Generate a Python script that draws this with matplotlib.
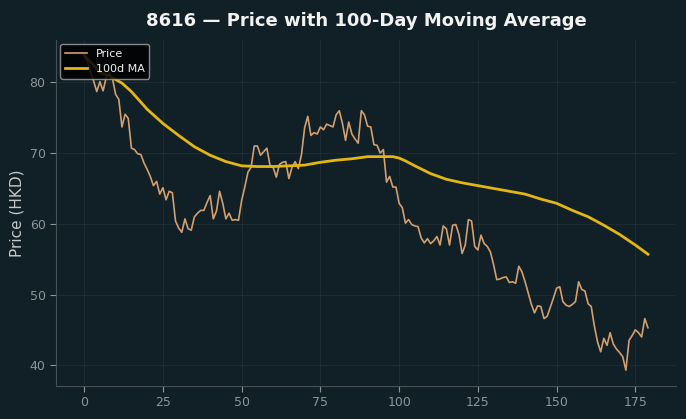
import matplotlib
matplotlib.use("Agg")
import matplotlib.pyplot as plt

# ── data ─────────────────────────────────────────────────────────────────────
price = [
    83.8, 83.0, 81.5, 80.2, 78.7, 80.1, 78.8, 80.7, 81.3, 80.5,   # 0-9
    78.3, 77.6, 73.7, 75.5, 74.9, 70.7, 70.5, 69.9, 69.8, 68.6,   # 10-19
    67.7, 66.7, 65.4, 66.0, 64.2, 65.1, 63.4, 64.6, 64.4, 60.4,   # 20-29
    59.4, 58.8, 60.7, 59.3, 59.1, 61.0, 61.5, 61.9, 61.9, 63.0,   # 30-39
    64.0, 60.7, 61.8, 64.6, 62.9, 60.7, 61.5, 60.5, 60.6, 60.5,   # 40-49
    63.3, 65.2, 67.3, 68.0, 71.0, 71.0, 69.7, 70.2, 70.7, 68.3,   # 50-59
    68.0, 66.6, 68.4, 68.7, 68.8, 66.4, 68.0, 68.8, 67.8, 69.8,   # 60-69
    73.6, 75.2, 72.5, 72.9, 72.7, 73.7, 73.3, 74.1, 73.9, 73.7,   # 70-79
    75.4, 76.0, 74.2, 71.8, 74.4, 72.7, 72.0, 71.4, 76.0, 75.4,   # 80-89
    73.8, 73.7, 71.2, 71.1, 70.0, 70.5, 65.9, 66.7, 65.2, 65.2,   # 90-99
    62.9, 62.3, 60.1, 60.6, 59.9, 59.7, 59.6, 58.0, 57.3, 57.9,   # 100-109
    57.2, 57.6, 58.2, 57.0, 59.7, 59.3, 57.0, 59.8, 59.9, 58.5,   # 110-119
    55.8, 57.0, 60.6, 60.4, 56.8, 56.3, 58.4, 57.2, 56.8, 56.0,   # 120-129
    54.2, 52.1, 52.2, 52.4, 52.5, 51.7, 51.8, 51.6, 54.0, 53.2,   # 130-139
    51.8, 50.2, 48.6, 47.4, 48.4, 48.3, 46.6, 46.9, 48.2, 49.5,   # 140-149
    50.9, 51.1, 49.0, 48.5, 48.3, 48.6, 49.0, 51.8, 50.7, 50.5,   # 150-159
    48.7, 48.3, 45.5, 43.3, 41.9, 43.8, 42.8, 44.6, 43.0, 42.3,   # 160-169
    41.8, 41.2, 39.3, 43.5, 44.2, 45.0, 44.6, 44.0, 46.6, 45.3,   # 170-179
]
days = list(range(len(price)))

# 100-day MA, sampled where it bends
ma_days = [0, 2, 5, 8, 10, 12, 15, 20, 25, 30, 35, 40, 45, 50, 55, 60, 65, 70,
           75, 80, 85, 90, 95, 98, 100, 102, 105, 110, 115, 120, 125, 130, 135,
           140, 145, 150, 155, 160, 165, 170, 175, 179]
ma_vals = [83.8, 82.9, 81.4, 80.9, 80.4, 79.9, 78.7, 76.2, 74.2, 72.5, 70.9,
           69.7, 68.8, 68.2, 68.1, 68.1, 68.2, 68.3, 68.7, 69.0, 69.2, 69.5,
           69.5, 69.5, 69.3, 68.9, 68.2, 67.1, 66.3, 65.8, 65.4, 65.0, 64.6,
           64.2, 63.5, 62.9, 61.9, 61.0, 59.8, 58.5, 57.0, 55.7]

title = "8616 \u2014 Price with 100-Day Moving Average"

# ── style ────────────────────────────────────────────────────────────────────
bg = "#111f26"
fig = plt.figure(figsize=(6.86, 4.19), dpi=100, facecolor=bg)
ax = fig.add_axes([0.0816, 0.079, 0.904, 0.826], facecolor=bg)

ax.plot(days, price, color="#d2a06e", lw=1.2, label="Price")
ax.plot(ma_days, ma_vals, color="#e2b614", lw=2.0, label="100d MA")

ax.set_title(title, color="#f2f2f2", fontsize=13, fontweight="bold", pad=10)
ax.set_ylabel("Price (HKD)", color="#c4c8ca", fontsize=11)

ax.set_xticks([0, 25, 50, 75, 100, 125, 150, 175])
ax.set_yticks([40, 50, 60, 70, 80])
ax.tick_params(colors="#8c9599", labelsize=9, length=4)
ax.grid(True, color="#ffffff", alpha=0.05, lw=0.8)

for side in ("top", "right"):
    ax.spines[side].set_visible(False)
for side in ("left", "bottom"):
    ax.spines[side].set_color("#454f54")

leg = ax.legend(loc="upper left", fontsize=8, facecolor="#000000",
                edgecolor="#9aa0a3", framealpha=0.85, labelcolor="#f0f0f0",
                borderaxespad=0.4)

fig.savefig("out.png", dpi=100, facecolor=bg)
